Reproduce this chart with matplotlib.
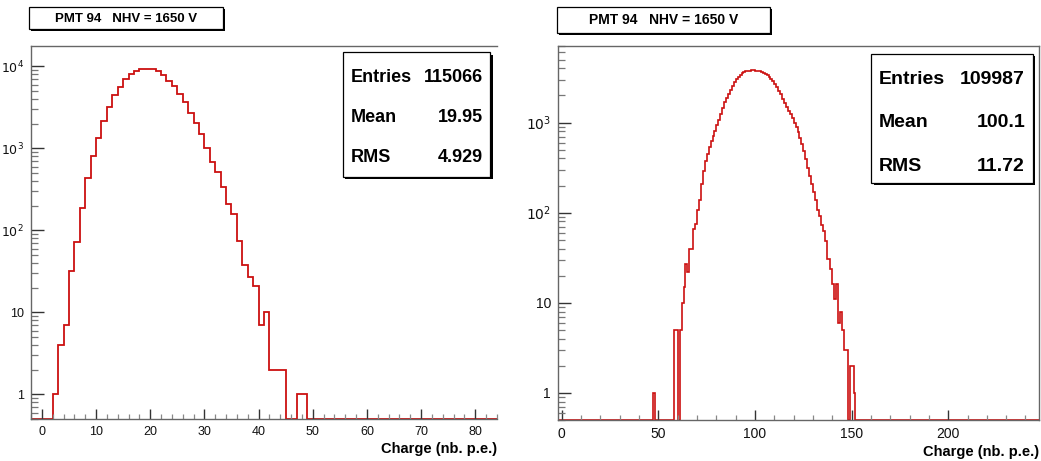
import matplotlib
matplotlib.use("Agg")
import matplotlib.pyplot as plt
import numpy as np
from matplotlib.patches import Rectangle
from matplotlib.ticker import FixedLocator, FixedFormatter, LogLocator, NullFormatter, MultipleLocator

W, H = 1041, 461

# ---- data ----
TITLE = "PMT 94   NHV = 1650 V"
XLABEL = "Charge (nb. p.e.)"

# left histogram: 1 p.e. bins, first filled bin starts at 2
left_lo, left_hi = -2, 84
left_start = 2
left_counts = [1, 4, 7, 32, 72, 190, 435, 817, 1337, 2140,
               3170, 4430, 5650, 7090, 8070, 8930, 9300, 9450, 9300, 8870,
               7920, 6700, 5700, 4600, 3680, 2700, 2040, 1520, 1010, 692,
               522, 343, 209, 158, 74, 38, 27, 21, 7, 10,
               2, 2, 2, 0, 0, 1, 1]
left_stats = [("Entries", "115066"), ("Mean", "19.95"), ("RMS", "4.929")]

# right histogram: 1 p.e. bins, first filled bin starts at 47
right_lo, right_hi = -2, 247
right_start = 47
right_counts = [1, 0, 0, 0, 0, 0, 0, 0, 0, 0,
                0, 5, 5, 0, 5, 10, 15, 27, 22, 40,
                40, 66, 75, 108, 140, 210, 290, 370, 450, 540,
                620, 710, 810, 930, 1080, 1250, 1450, 1680, 1880, 2080,
                2290, 2560, 2820, 3050, 3230, 3400, 3520, 3620, 3700, 3750,
                3780, 3800, 3790, 3780, 3760, 3720, 3650, 3560, 3460, 3360,
                3200, 3050, 2880, 2700, 2480, 2260, 2050, 1850, 1660, 1500,
                1360, 1250, 1120, 1000, 890, 780, 680, 580, 480, 390,
                310, 255, 210, 170, 140, 108, 91, 73, 62, 48,
                31, 31, 24, 16, 11, 16, 6, 8, 5, 3,
                3, 0, 2, 2, 1]
right_stats = [("Entries", "109987"), ("Mean", "100.1"), ("RMS", "11.72")]

FONT = ["Liberation Sans", "DejaVu Sans"]
RED = "#cc1010"


def fx(x):
    return x / W


def fy(y):
    return 1 - y / H


def full_hist(lo, hi, start, counts):
    edges = np.arange(lo, hi + 1)
    vals = np.zeros(len(edges) - 1)
    i0 = start - lo
    vals[i0:i0 + len(counts)] = counts
    return edges, vals


def pave(fig, x0, y0, x1, y1, shadow=2.5):
    # ROOT style box with a drop shadow at bottom-right
    fig.patches.append(Rectangle((fx(x0 + shadow), fy(y1 + shadow)), fx(x1 - x0), (y1 - y0) / H,
                                 transform=fig.transFigure, facecolor="black", edgecolor="none", zorder=5))
    fig.patches.append(Rectangle((fx(x0), fy(y1)), fx(x1 - x0), (y1 - y0) / H,
                                 transform=fig.transFigure, facecolor="white", edgecolor="black",
                                 linewidth=0.9, zorder=6))


def setup_axes(ax, xlo, xhi, ytop, yticks, ylabels, xmaj, xmin, fs, xfs):
    ax.set_yscale("log")
    ax.set_xlim(xlo, xhi)
    ax.set_ylim(0.5, ytop)
    ax.yaxis.set_major_locator(FixedLocator(yticks))
    ax.yaxis.set_major_formatter(FixedFormatter(ylabels))
    ax.yaxis.set_minor_locator(LogLocator(base=10, subs=np.arange(2, 10), numticks=20))
    ax.yaxis.set_minor_formatter(NullFormatter())
    ax.xaxis.set_major_locator(MultipleLocator(xmaj))
    ax.xaxis.set_minor_locator(MultipleLocator(xmin))
    ax.tick_params(axis="y", which="major", direction="in", length=9, width=1.0, color="#333333",
                   pad=5, labelsize=fs, right=False)
    ax.tick_params(axis="y", which="minor", direction="in", length=5, width=0.9, color="#777777", right=False)
    ax.tick_params(axis="x", which="major", direction="in", length=7, width=1.0, color="#333333",
                   pad=5, labelsize=fs, top=False)
    ax.tick_params(axis="x", which="minor", direction="in", length=3.5, width=0.9, color="#888888", top=False)
    for lab in ax.get_xticklabels() + ax.get_yticklabels():
        lab.set_family(FONT)
        lab.set_color("#111111")
    for s in ax.spines.values():
        s.set_color("#666666")
        s.set_linewidth(1.0)
    ax.set_xlabel(XLABEL, loc="right", fontsize=xfs, fontweight="bold", family=FONT, labelpad=3)


fig = plt.figure(figsize=(W / 100, H / 100), dpi=100)

# ---- left panel ----
ax1 = fig.add_axes([fx(31), fy(419), fx(497 - 31), (419 - 46) / H])
edges, vals = full_hist(left_lo, left_hi, left_start, left_counts)
ax1.stairs(np.where(vals > 0, vals, 0.5), edges, baseline=None, color=RED, linewidth=1.3)
setup_axes(ax1, left_lo, left_hi, 10 ** 4.25, [1, 10, 100, 1000, 10000],
           ["1", "10", r"$10^{2}$", r"$10^{3}$", r"$10^{4}$"], 10, 2, 9, 10.5)
ax1.spines["right"].set_visible(False)

# ---- right panel ----
ax2 = fig.add_axes([fx(558), fy(420), fx(1039 - 558), (420 - 46) / H])
edges, vals = full_hist(right_lo, right_hi, right_start, right_counts)
ax2.stairs(np.where(vals > 0, vals, 0.5), edges, baseline=None, color=RED, linewidth=1.2)
setup_axes(ax2, right_lo, right_hi, 10 ** 3.85, [1, 10, 100, 1000],
           ["1", "10", r"$10^{2}$", r"$10^{3}$"], 50, 10, 10, 10.5)

# ---- title boxes ----
pave(fig, 29.3, 6.7, 223.3, 29.3, shadow=2)
fig.text(fx(126.3), fy(18.5), TITLE, ha="center", va="center", fontsize=9.5,
         fontweight="bold", family=FONT, zorder=10)
pave(fig, 557.3, 7.3, 770, 32.7, shadow=2)
fig.text(fx(663.6), fy(20.5), TITLE, ha="center", va="center", fontsize=10,
         fontweight="bold", family=FONT, zorder=10)

# ---- stats boxes ----
pave(fig, 342.7, 52.3, 490, 176.7)
for (name, val), yc in zip(left_stats, [77, 118, 158]):
    fig.text(fx(351), fy(yc), name, ha="left", va="center", fontsize=13, fontweight="bold",
             family=FONT, zorder=10)
    fig.text(fx(483), fy(yc), val, ha="right", va="center", fontsize=13, fontweight="bold",
             family=FONT, zorder=10)

pave(fig, 871, 54, 1032.7, 182.7)
for (name, val), yc in zip(right_stats, [80, 122.7, 166.7]):
    fig.text(fx(879), fy(yc), name, ha="left", va="center", fontsize=14, fontweight="bold",
             family=FONT, zorder=10)
    fig.text(fx(1025), fy(yc), val, ha="right", va="center", fontsize=14, fontweight="bold",
             family=FONT, zorder=10)

fig.savefig("out.png", dpi=100)
